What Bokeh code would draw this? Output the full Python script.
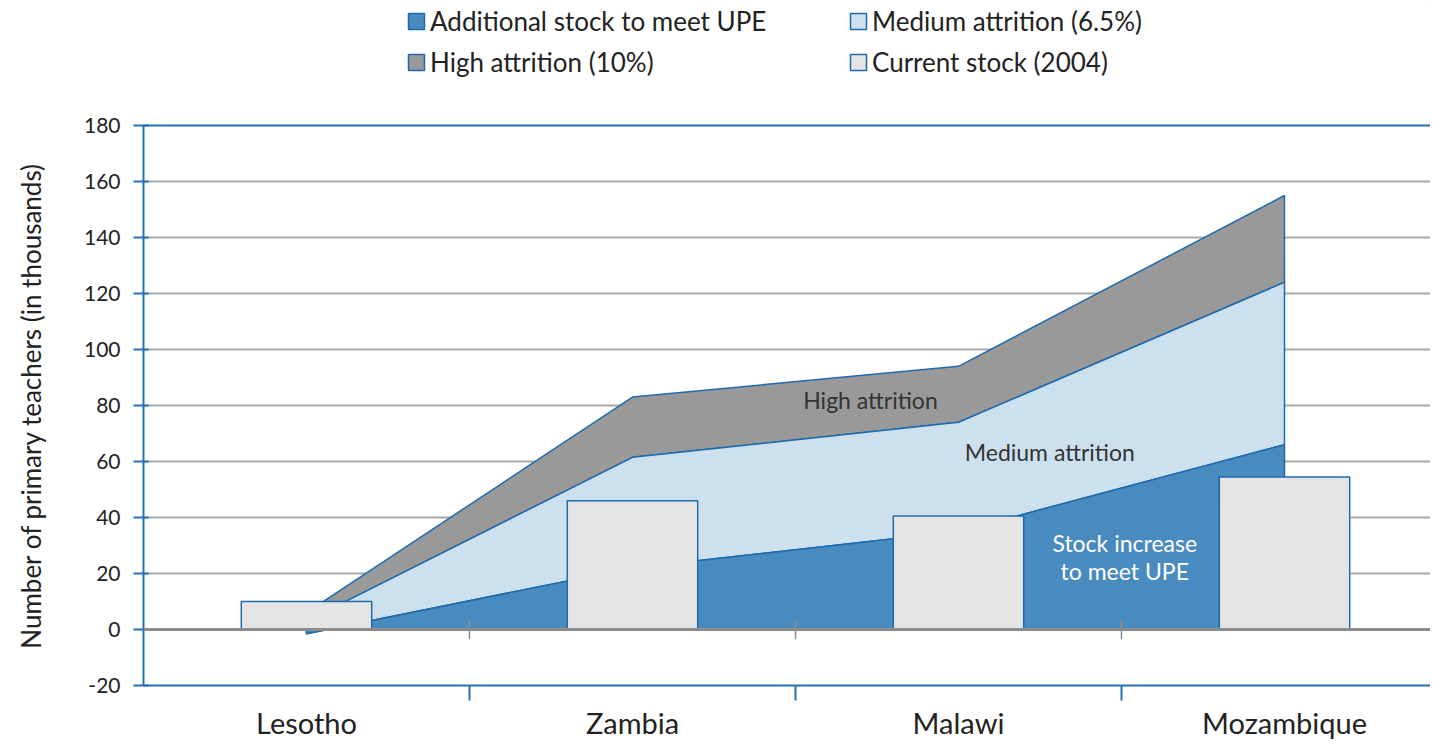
import numpy as np
from bokeh.plotting import figure
from bokeh.layouts import column
from bokeh.models import Range1d, FixedTicker, LinearAxis, Legend, LegendItem, Span, Label
from bokeh.embed import file_html
from bokeh.resources import INLINE

# ---- data (thousands of primary teachers) ----
countries = ["Lesotho", "Zambia", "Malawi", "Mozambique"]
additional_stock = [-1.5, 22.0, 35.0, 66.0]      # stock increase to meet UPE
medium_attrition = [4.5, 39.5, 39.0, 58.0]       # extra need, 6.5% attrition
high_attrition = [3.0, 21.5, 20.0, 31.0]         # extra need, 10% attrition
current_stock = [10.0, 46.0, 40.5, 54.5]         # current stock (2004)
y_ticks = [-20, 0, 20, 40, 60, 80, 100, 120, 140, 160, 180]

FONT = "Lato"
BLUE = "#2470b3"
EDGE = "#1f6aad"
GRID = "#a8a8a8"
TXT = "#222222"
C_ADD, C_MED, C_HIGH, C_BAR = "#4a8bbf", "#cde0ee", "#999999", "#e4e4e4"

W, H = 1430, 742
LEG_H = 95
LEFT, TOP, BOTTOM = 143, 125, 685
CAT_PX = 326

n = len(countries)
xc = np.arange(n) + 0.5
bounds = np.arange(1, n)
zero = np.zeros(n)
add_top = np.array(additional_stock)
med_top = add_top + np.array(medium_attrition)
high_top = med_top + np.array(high_attrition)

# ---------------- main chart ----------------
p = figure(width=W, height=H - LEG_H, output_backend="svg", toolbar_location=None,
           x_range=Range1d(0, (W - LEFT) / CAT_PX), y_range=Range1d(-20, 180),
           min_border_left=LEFT, min_border_right=0, min_border_top=TOP - LEG_H,
           min_border_bottom=H - BOTTOM, outline_line_color=None)


def band(lower, upper):
    xs = np.concatenate([xc, xc[::-1]])
    ys = np.concatenate([upper, lower[::-1]])
    return xs, ys


xs, ys = band(med_top, high_top)
p.patch(xs, ys, fill_color=C_HIGH, line_color=EDGE, line_width=1.5)
xs, ys = band(add_top, med_top)
p.patch(xs, ys, fill_color=C_MED, line_color=EDGE, line_width=1.5)
xs, ys = band(zero, add_top)
p.patch(xs, ys, fill_color=C_ADD, line_color=EDGE, line_width=1.5)

p.vbar(x=xc, top=current_stock, bottom=0, width=0.4,
       fill_color=C_BAR, line_color=EDGE, line_width=1.5)

# zero line with category separators
p.add_layout(Span(location=0, dimension="width", line_color="#8c8c8c", line_width=3))
p.segment(x0=bounds, y0=-3.5, x1=bounds, y1=3.5, line_color="#8c8c8c", line_width=1.5)

# grid
p.xgrid.visible = False
p.ygrid.ticker = FixedTicker(ticks=y_ticks)
p.ygrid.grid_line_color = GRID
p.ygrid.grid_line_width = 2

# y axis
yax = p.yaxis[0]
yax.ticker = FixedTicker(ticks=y_ticks)
yax.major_label_overrides = {t: str(t) for t in y_ticks}
yax.axis_line_color = BLUE
yax.axis_line_width = 2
yax.major_tick_line_color = BLUE
yax.major_tick_line_width = 2
yax.major_tick_out = 10
yax.major_tick_in = 5
yax.minor_tick_line_color = None
yax.major_label_text_font = FONT
yax.major_label_text_font_size = "21px"
yax.major_label_text_color = TXT
yax.major_label_standoff = 13
yax.axis_label = "Number of primary teachers (in thousands)"
yax.axis_label_text_font = FONT
yax.axis_label_text_font_size = "26px"
yax.axis_label_text_font_style = "normal"
yax.axis_label_text_color = TXT
yax.axis_label_standoff = 34

# x axis
xax = p.xaxis[0]
xax.ticker = FixedTicker(ticks=list(xc), minor_ticks=list(bounds))
xax.major_label_overrides = {float(v): c for v, c in zip(xc, countries)}
xax.axis_line_color = BLUE
xax.axis_line_width = 2
xax.major_tick_line_color = None
xax.major_tick_out = 0
xax.major_tick_in = 0
xax.minor_tick_line_color = BLUE
xax.minor_tick_line_width = 2
xax.minor_tick_out = 15
xax.minor_tick_in = 0
xax.major_label_text_font = FONT
xax.major_label_text_font_size = "29px"
xax.major_label_text_color = TXT
xax.major_label_standoff = 4

# top border (zero-size axis: just the line)
top = LinearAxis(ticker=FixedTicker(ticks=[]), axis_line_color=BLUE, axis_line_width=2,
                 major_tick_line_color=None, minor_tick_line_color=None,
                 major_tick_out=0, major_tick_in=0, minor_tick_out=0, minor_tick_in=0,
                 major_label_standoff=0, axis_label_standoff=0,
                 major_label_text_font_size="0px")
p.add_layout(top, "above")

# in-chart annotations
for tx, lx, ly, col in [("High attrition", 2.23, 82, "#333333"),
                        ("Medium attrition", 2.78, 63.5, "#333333"),
                        ("Stock increase", 3.01, 31, "white"),
                        ("to meet UPE", 3.01, 21, "white")]:
    p.add_layout(Label(x=lx, y=ly, text=tx, text_align="center", text_baseline="middle",
                       text_font=FONT, text_font_size="23px", text_color=col))

# ---------------- legend strip ----------------
lg = figure(width=W, height=LEG_H, output_backend="svg", toolbar_location=None,
            x_range=Range1d(0, 1), y_range=Range1d(0, 1),
            x_axis_type=None, y_axis_type=None, outline_line_color=None,
            min_border_left=0, min_border_right=0, min_border_top=0, min_border_bottom=0)
lg.xgrid.visible = False
lg.ygrid.visible = False
# legend-only swatch renderers, kept outside the visible range of this strip
off = dict(x=[5, 6, 6], y=[5, 5, 6])
g_add = lg.patch(fill_color=C_ADD, line_color=EDGE, line_width=1.5, **off)
g_high = lg.patch(fill_color=C_HIGH, line_color=EDGE, line_width=1.5, **off)
g_med = lg.patch(fill_color=C_MED, line_color=EDGE, line_width=1.5, **off)
g_bar = lg.vbar(x=[5], top=[6], bottom=[5], width=0.4, fill_color=C_BAR,
                line_color=EDGE, line_width=1.5)


def make_legend(items, loc):
    return Legend(items=items, location=loc, orientation="vertical",
                  label_text_font=FONT, label_text_font_size="26px", label_text_color=TXT,
                  glyph_width=20, glyph_height=20, label_height=20, label_standoff=4,
                  spacing=9, padding=0, margin=0, border_line_color=None,
                  background_fill_alpha=0)


LEG_Y = 17
lg.add_layout(make_legend([LegendItem(label="Additional stock to meet UPE", renderers=[g_add]),
                           LegendItem(label="High attrition (10%)", renderers=[g_high])],
                          (406 - LEFT, LEG_Y)))
lg.add_layout(make_legend([LegendItem(label="Medium attrition (6.5%)", renderers=[g_med]),
                           LegendItem(label="Current stock (2004)", renderers=[g_bar])],
                          (848 - LEFT, LEG_Y)))

layout = column(lg, p, spacing=0)
open("out.html", "w").write(file_html(layout, INLINE))
